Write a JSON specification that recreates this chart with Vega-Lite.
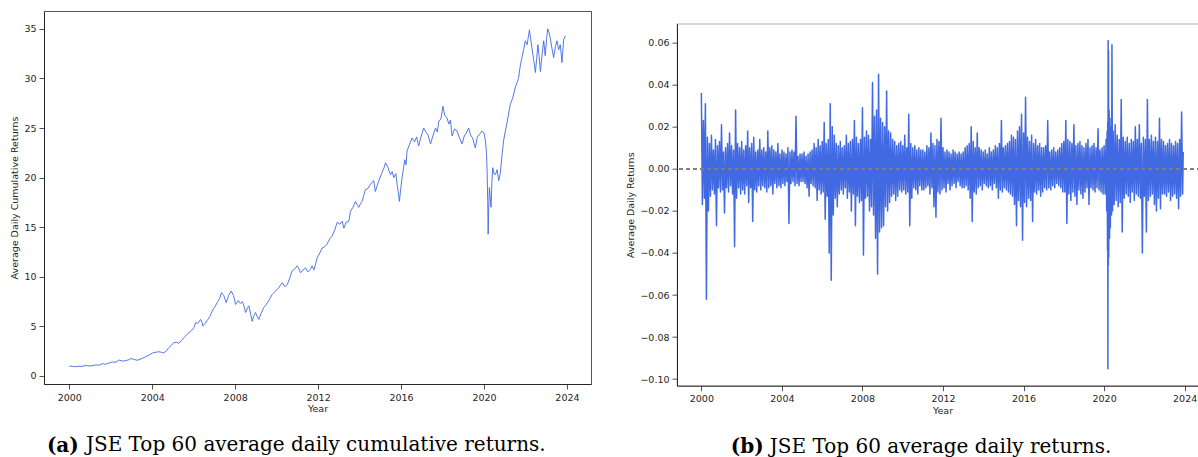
{
  "$schema": "https://vega.github.io/schema/vega-lite/v6.json",
  "background": "white",
  "padding": {"left": 8, "top": 10, "right": 0, "bottom": 0},
  "spacing": 32,
  "config": {
    "font": "DejaVu Sans",
    "view": {"stroke": null},
    "axis": {
      "labelFont": "DejaVu Sans", "labelFontSize": 9.5, "labelColor": "#262626",
      "titleFont": "DejaVu Sans", "titleFontSize": 9.5, "titleFontWeight": "normal", "titleColor": "#262626",
      "tickColor": "#262626", "tickSize": 5, "tickWidth": 0.8, "domainColor": "#262626", "domainWidth": 1,
      "grid": false, "labelPadding": 3, "titlePadding": 4.5
    },
    "axisX": {"titlePadding": 2},
    "title": {"font": "DejaVu Serif", "fontSize": 20, "color": "#000000", "fontWeight": "normal"}
  },
  "hconcat": [
    {
      "title": {"text": "JSE Top 60 average daily cumulative returns.", "orient": "bottom", "anchor": "start", "frame": "bounds", "dx": 77, "dy": -20.5, "offset": 0},
      "vconcat": [{
        "title": {"text": "(a)", "orient": "bottom", "anchor": "start", "frame": "bounds", "fontWeight": "bold", "dx": 38, "offset": 22},
        "vconcat": [{
          "width": 547, "height": 373,
          "view": {"stroke": "#555555", "strokeWidth": 1},
          "data": {"values": [
            {"t":2000.00,"v":1.0},{"t":2000.15,"v":0.97},{"t":2000.30,"v":0.94},{"t":2000.45,"v":0.98},{"t":2000.60,"v":0.95},{"t":2000.79,"v":1.08},{"t":2000.95,"v":1.0},
            {"t":2001.10,"v":1.04},{"t":2001.30,"v":1.12},{"t":2001.45,"v":1.08},{"t":2001.59,"v":1.24},{"t":2001.75,"v":1.18},{"t":2001.90,"v":1.3},
            {"t":2002.07,"v":1.41},{"t":2002.25,"v":1.38},{"t":2002.40,"v":1.61},{"t":2002.55,"v":1.5},{"t":2002.72,"v":1.55},{"t":2002.85,"v":1.62},{"t":2002.96,"v":1.75},
            {"t":2003.10,"v":1.68},{"t":2003.28,"v":1.58},{"t":2003.45,"v":1.72},{"t":2003.60,"v":1.85},{"t":2003.68,"v":1.95},{"t":2003.85,"v":2.1},
            {"t":2004.00,"v":2.3},{"t":2004.08,"v":2.35},{"t":2004.20,"v":2.4},{"t":2004.32,"v":2.45},{"t":2004.45,"v":2.38},{"t":2004.56,"v":2.32},{"t":2004.68,"v":2.55},{"t":2004.80,"v":2.85},{"t":2004.92,"v":3.1},
            {"t":2005.05,"v":3.36},{"t":2005.15,"v":3.4},{"t":2005.29,"v":3.3},{"t":2005.40,"v":3.55},{"t":2005.53,"v":3.86},{"t":2005.65,"v":4.15},{"t":2005.77,"v":4.37},{"t":2005.90,"v":4.6},
            {"t":2006.01,"v":4.87},{"t":2006.09,"v":5.37},{"t":2006.20,"v":5.3},{"t":2006.33,"v":5.7},{"t":2006.40,"v":5.4},{"t":2006.44,"v":5.04},{"t":2006.55,"v":5.3},{"t":2006.65,"v":5.6},{"t":2006.78,"v":6.0},{"t":2006.89,"v":6.55},
            {"t":2007.00,"v":6.9},{"t":2007.13,"v":7.4},{"t":2007.25,"v":7.8},{"t":2007.34,"v":8.4},{"t":2007.45,"v":8.1},{"t":2007.57,"v":7.4},{"t":2007.68,"v":8.1},{"t":2007.81,"v":8.57},{"t":2007.92,"v":8.1},
            {"t":2008.02,"v":7.2},{"t":2008.15,"v":7.6},{"t":2008.25,"v":7.3},{"t":2008.34,"v":7.5},{"t":2008.42,"v":7.1},{"t":2008.50,"v":6.4},{"t":2008.60,"v":6.9},{"t":2008.66,"v":7.06},{"t":2008.75,"v":6.2},{"t":2008.82,"v":5.5},{"t":2008.90,"v":6.1},{"t":2008.98,"v":6.4},
            {"t":2009.06,"v":6.0},{"t":2009.14,"v":5.7},{"t":2009.25,"v":6.3},{"t":2009.38,"v":6.9},{"t":2009.50,"v":7.2},{"t":2009.62,"v":7.6},{"t":2009.78,"v":8.2},{"t":2009.92,"v":8.5},
            {"t":2010.10,"v":8.9},{"t":2010.27,"v":9.4},{"t":2010.40,"v":9.0},{"t":2010.51,"v":9.2},{"t":2010.62,"v":9.8},{"t":2010.75,"v":10.6},{"t":2010.88,"v":10.8},{"t":2010.99,"v":11.1},
            {"t":2011.08,"v":10.8},{"t":2011.15,"v":10.4},{"t":2011.28,"v":10.7},{"t":2011.39,"v":10.9},{"t":2011.50,"v":10.5},{"t":2011.63,"v":10.75},{"t":2011.71,"v":11.1},{"t":2011.80,"v":10.7},{"t":2011.88,"v":11.3},{"t":2011.95,"v":11.9},
            {"t":2012.08,"v":12.4},{"t":2012.19,"v":12.9},{"t":2012.30,"v":13.0},{"t":2012.43,"v":13.3},{"t":2012.55,"v":13.8},{"t":2012.67,"v":14.1},{"t":2012.80,"v":14.7},{"t":2012.92,"v":15.5},
            {"t":2013.05,"v":15.3},{"t":2013.16,"v":15.6},{"t":2013.24,"v":14.9},{"t":2013.35,"v":15.5},{"t":2013.48,"v":15.6},{"t":2013.56,"v":16.6},{"t":2013.68,"v":17.0},{"t":2013.80,"v":17.6},{"t":2013.90,"v":17.2},{"t":2013.96,"v":17.0},
            {"t":2014.05,"v":17.4},{"t":2014.12,"v":17.6},{"t":2014.20,"v":18.2},{"t":2014.28,"v":18.8},{"t":2014.40,"v":18.9},{"t":2014.52,"v":19.3},{"t":2014.60,"v":19.5},{"t":2014.68,"v":19.7},{"t":2014.76,"v":18.6},{"t":2014.85,"v":19.2},{"t":2014.93,"v":19.7},
            {"t":2015.08,"v":20.5},{"t":2015.18,"v":21.0},{"t":2015.25,"v":21.5},{"t":2015.37,"v":21.0},{"t":2015.49,"v":20.3},{"t":2015.57,"v":20.6},{"t":2015.65,"v":20.0},{"t":2015.75,"v":20.4},{"t":2015.81,"v":19.3},{"t":2015.87,"v":18.5},{"t":2015.92,"v":17.6},{"t":2015.98,"v":18.8},
            {"t":2016.05,"v":20.0},{"t":2016.12,"v":21.0},{"t":2016.18,"v":21.8},{"t":2016.24,"v":21.3},{"t":2016.29,"v":22.7},{"t":2016.40,"v":23.3},{"t":2016.53,"v":24.0},{"t":2016.65,"v":23.6},{"t":2016.75,"v":24.1},{"t":2016.85,"v":23.2},{"t":2016.95,"v":24.0},
            {"t":2017.09,"v":25.0},{"t":2017.20,"v":24.6},{"t":2017.30,"v":24.3},{"t":2017.42,"v":23.4},{"t":2017.55,"v":24.3},{"t":2017.66,"v":25.0},{"t":2017.75,"v":24.6},{"t":2017.82,"v":25.7},{"t":2017.92,"v":25.9},
            {"t":2018.02,"v":27.2},{"t":2018.10,"v":26.3},{"t":2018.22,"v":26.0},{"t":2018.30,"v":25.4},{"t":2018.38,"v":25.8},{"t":2018.46,"v":24.2},{"t":2018.58,"v":24.9},{"t":2018.70,"v":24.7},{"t":2018.80,"v":24.1},{"t":2018.94,"v":23.4},
            {"t":2019.05,"v":24.2},{"t":2019.15,"v":24.5},{"t":2019.26,"v":25.0},{"t":2019.35,"v":24.3},{"t":2019.45,"v":24.0},{"t":2019.58,"v":23.0},{"t":2019.68,"v":24.1},{"t":2019.80,"v":24.4},{"t":2019.90,"v":24.7},
            {"t":2020.00,"v":24.5},{"t":2020.07,"v":23.7},{"t":2020.12,"v":22.5},{"t":2020.15,"v":20.7},{"t":2020.18,"v":17.5},{"t":2020.20,"v":14.3},{"t":2020.23,"v":17.0},{"t":2020.26,"v":19.0},{"t":2020.30,"v":18.0},{"t":2020.34,"v":17.0},{"t":2020.38,"v":19.5},{"t":2020.42,"v":21.0},{"t":2020.48,"v":20.4},{"t":2020.55,"v":20.3},{"t":2020.63,"v":20.8},{"t":2020.71,"v":19.7},{"t":2020.79,"v":20.5},{"t":2020.87,"v":22.3},{"t":2020.95,"v":23.8},
            {"t":2021.03,"v":24.7},{"t":2021.15,"v":26.0},{"t":2021.27,"v":27.4},{"t":2021.38,"v":28.0},{"t":2021.51,"v":29.1},{"t":2021.60,"v":29.6},{"t":2021.67,"v":30.1},{"t":2021.75,"v":31.3},{"t":2021.83,"v":32.1},{"t":2021.92,"v":33.0},{"t":2021.99,"v":33.8},
            {"t":2022.08,"v":33.4},{"t":2022.19,"v":34.9},{"t":2022.25,"v":34.0},{"t":2022.31,"v":33.1},{"t":2022.40,"v":31.8},{"t":2022.48,"v":30.6},{"t":2022.54,"v":32.0},{"t":2022.60,"v":33.4},{"t":2022.66,"v":32.2},{"t":2022.72,"v":30.7},{"t":2022.80,"v":32.4},{"t":2022.88,"v":33.8},{"t":2022.95,"v":32.3},
            {"t":2023.02,"v":34.0},{"t":2023.07,"v":35.0},{"t":2023.14,"v":34.6},{"t":2023.20,"v":34.0},{"t":2023.28,"v":33.0},{"t":2023.36,"v":32.1},{"t":2023.44,"v":33.2},{"t":2023.52,"v":33.8},{"t":2023.60,"v":32.9},{"t":2023.68,"v":33.4},{"t":2023.76,"v":31.6},{"t":2023.84,"v":33.9},{"t":2023.92,"v":34.3}
          ]},
          "mark": {"type": "line", "color": "#4169E1", "strokeWidth": 0.9},
          "encoding": {
            "x": {"field": "t", "type": "quantitative", "scale": {"domain": [1998.78, 2025.16], "nice": false, "zero": false},
                  "axis": {"values": [2000, 2004, 2008, 2012, 2016, 2020, 2024], "format": "d", "title": "Year"}},
            "y": {"field": "v", "type": "quantitative", "scale": {"domain": [-0.81, 36.8], "nice": false, "zero": false},
                  "axis": {"values": [0, 5, 10, 15, 20, 25, 30, 35], "format": "d", "title": "Average Daily Cumulative Returns"}}
          }
        }]
      }]
    },
    {
      "title": {"text": "JSE Top 60 average daily returns.", "orient": "bottom", "anchor": "start", "frame": "bounds", "dx": 145, "dy": -20.5, "offset": 0},
      "vconcat": [{
        "title": {"text": "(b)", "orient": "bottom", "anchor": "start", "frame": "bounds", "fontWeight": "bold", "dx": 106, "offset": 22},
        "spacing": 10.7,
        "vconcat": [
          {
            "width": 531, "height": 1,
            "data": {"values": [{}]},
            "mark": {"type": "rule", "opacity": 0},
            "encoding": {}
          },
          {
          "width": 531, "height": 362,
          "view": {"stroke": "#b0b0b0", "strokeWidth": 1.2},
          "data": {"values": [
            {"t":2000.00,"r":0.036},{"t":2000.05,"r":-0.017},{"t":2000.10,"r":0.023},{"t":2000.15,"r":-0.014},{"t":2000.20,"r":0.031},{"t":2000.25,"r":-0.062},{"t":2000.30,"r":0.015},{"t":2000.35,"r":-0.020},{"t":2000.40,"r":0.012},{"t":2000.45,"r":-0.013},{"t":2000.50,"r":0.016},{"t":2000.55,"r":-0.010},{"t":2000.60,"r":0.009},{"t":2000.65,"r":-0.012},{"t":2000.70,"r":0.014},{"t":2000.75,"r":-0.027},{"t":2000.80,"r":0.011},{"t":2000.85,"r":-0.009},{"t":2000.90,"r":0.013},{"t":2000.95,"r":-0.011},
            {"t":2001.00,"r":0.021},{"t":2001.05,"r":-0.010},{"t":2001.10,"r":0.008},{"t":2001.15,"r":-0.021},{"t":2001.20,"r":0.010},{"t":2001.25,"r":-0.009},{"t":2001.30,"r":0.012},{"t":2001.35,"r":-0.011},{"t":2001.40,"r":0.017},{"t":2001.45,"r":-0.008},{"t":2001.50,"r":0.011},{"t":2001.55,"r":-0.012},{"t":2001.60,"r":0.009},{"t":2001.65,"r":-0.037},{"t":2001.70,"r":0.028},{"t":2001.75,"r":-0.014},{"t":2001.80,"r":0.012},{"t":2001.85,"r":-0.009},{"t":2001.90,"r":0.010},{"t":2001.95,"r":-0.012},
            {"t":2002.00,"r":0.013},{"t":2002.05,"r":-0.010},{"t":2002.10,"r":0.009},{"t":2002.15,"r":-0.012},{"t":2002.20,"r":0.011},{"t":2002.25,"r":-0.008},{"t":2002.30,"r":0.018},{"t":2002.35,"r":-0.016},{"t":2002.40,"r":0.010},{"t":2002.45,"r":-0.009},{"t":2002.50,"r":0.012},{"t":2002.55,"r":-0.025},{"t":2002.60,"r":0.015},{"t":2002.65,"r":-0.010},{"t":2002.70,"r":0.008},{"t":2002.75,"r":-0.011},{"t":2002.80,"r":0.009},{"t":2002.85,"r":-0.008},{"t":2002.90,"r":0.014},{"t":2002.95,"r":-0.010},
            {"t":2003.00,"r":0.009},{"t":2003.05,"r":-0.008},{"t":2003.10,"r":0.010},{"t":2003.15,"r":-0.009},{"t":2003.20,"r":0.008},{"t":2003.25,"r":-0.011},{"t":2003.30,"r":0.018},{"t":2003.35,"r":-0.009},{"t":2003.40,"r":0.010},{"t":2003.45,"r":-0.008},{"t":2003.50,"r":0.011},{"t":2003.55,"r":-0.012},{"t":2003.60,"r":0.009},{"t":2003.65,"r":-0.007},{"t":2003.70,"r":0.008},{"t":2003.75,"r":-0.009},{"t":2003.80,"r":0.012},{"t":2003.85,"r":-0.008},{"t":2003.90,"r":0.007},{"t":2003.95,"r":-0.009},
            {"t":2004.00,"r":0.009},{"t":2004.05,"r":-0.007},{"t":2004.10,"r":0.008},{"t":2004.15,"r":-0.008},{"t":2004.20,"r":0.007},{"t":2004.25,"r":-0.006},{"t":2004.30,"r":0.010},{"t":2004.35,"r":-0.026},{"t":2004.40,"r":0.008},{"t":2004.45,"r":-0.007},{"t":2004.50,"r":0.009},{"t":2004.55,"r":-0.006},{"t":2004.60,"r":0.008},{"t":2004.65,"r":-0.008},{"t":2004.70,"r":0.025},{"t":2004.75,"r":-0.007},{"t":2004.80,"r":0.006},{"t":2004.85,"r":-0.008},{"t":2004.90,"r":0.007},{"t":2004.95,"r":-0.006},
            {"t":2005.00,"r":0.007},{"t":2005.05,"r":-0.006},{"t":2005.10,"r":0.008},{"t":2005.15,"r":-0.007},{"t":2005.20,"r":0.006},{"t":2005.25,"r":-0.009},{"t":2005.30,"r":0.007},{"t":2005.35,"r":-0.013},{"t":2005.40,"r":0.008},{"t":2005.45,"r":-0.007},{"t":2005.50,"r":0.009},{"t":2005.55,"r":-0.008},{"t":2005.60,"r":0.012},{"t":2005.65,"r":-0.009},{"t":2005.70,"r":0.010},{"t":2005.75,"r":-0.015},{"t":2005.80,"r":0.014},{"t":2005.85,"r":-0.010},{"t":2005.90,"r":0.011},{"t":2005.95,"r":-0.012},
            {"t":2006.00,"r":0.013},{"t":2006.05,"r":-0.011},{"t":2006.10,"r":0.022},{"t":2006.15,"r":-0.024},{"t":2006.20,"r":0.012},{"t":2006.25,"r":-0.013},{"t":2006.30,"r":0.014},{"t":2006.35,"r":-0.040},{"t":2006.40,"r":0.031},{"t":2006.45,"r":-0.053},{"t":2006.50,"r":0.020},{"t":2006.55,"r":-0.022},{"t":2006.60,"r":0.016},{"t":2006.65,"r":-0.014},{"t":2006.70,"r":0.012},{"t":2006.75,"r":-0.018},{"t":2006.80,"r":0.011},{"t":2006.85,"r":-0.012},{"t":2006.90,"r":0.013},{"t":2006.95,"r":-0.010},
            {"t":2007.00,"r":0.010},{"t":2007.05,"r":-0.012},{"t":2007.10,"r":0.011},{"t":2007.15,"r":-0.009},{"t":2007.20,"r":0.016},{"t":2007.25,"r":-0.014},{"t":2007.30,"r":0.012},{"t":2007.35,"r":-0.011},{"t":2007.40,"r":0.013},{"t":2007.45,"r":-0.020},{"t":2007.50,"r":0.014},{"t":2007.55,"r":-0.012},{"t":2007.60,"r":0.023},{"t":2007.65,"r":-0.027},{"t":2007.70,"r":0.015},{"t":2007.75,"r":-0.013},{"t":2007.80,"r":0.012},{"t":2007.85,"r":-0.016},{"t":2007.90,"r":0.014},{"t":2007.95,"r":-0.015},
            {"t":2008.00,"r":0.029},{"t":2008.05,"r":-0.041},{"t":2008.10,"r":0.015},{"t":2008.15,"r":-0.014},{"t":2008.20,"r":0.018},{"t":2008.25,"r":-0.013},{"t":2008.30,"r":0.016},{"t":2008.35,"r":-0.020},{"t":2008.40,"r":0.014},{"t":2008.45,"r":-0.018},{"t":2008.50,"r":0.041},{"t":2008.55,"r":-0.022},{"t":2008.60,"r":0.025},{"t":2008.65,"r":-0.033},{"t":2008.70,"r":0.028},{"t":2008.75,"r":-0.050},{"t":2008.80,"r":0.045},{"t":2008.85,"r":-0.030},{"t":2008.90,"r":0.024},{"t":2008.95,"r":-0.028},
            {"t":2009.00,"r":0.022},{"t":2009.05,"r":-0.027},{"t":2009.10,"r":0.020},{"t":2009.15,"r":-0.018},{"t":2009.20,"r":0.037},{"t":2009.25,"r":-0.020},{"t":2009.30,"r":0.018},{"t":2009.35,"r":-0.016},{"t":2009.40,"r":0.017},{"t":2009.45,"r":-0.013},{"t":2009.50,"r":0.014},{"t":2009.55,"r":-0.012},{"t":2009.60,"r":0.013},{"t":2009.65,"r":-0.015},{"t":2009.70,"r":0.011},{"t":2009.75,"r":-0.013},{"t":2009.80,"r":0.012},{"t":2009.85,"r":-0.010},{"t":2009.90,"r":0.013},{"t":2009.95,"r":-0.011},
            {"t":2010.00,"r":0.011},{"t":2010.05,"r":-0.010},{"t":2010.10,"r":0.016},{"t":2010.15,"r":-0.012},{"t":2010.20,"r":0.010},{"t":2010.25,"r":-0.011},{"t":2010.30,"r":0.026},{"t":2010.35,"r":-0.027},{"t":2010.40,"r":0.012},{"t":2010.45,"r":-0.014},{"t":2010.50,"r":0.010},{"t":2010.55,"r":-0.009},{"t":2010.60,"r":0.011},{"t":2010.65,"r":-0.010},{"t":2010.70,"r":0.009},{"t":2010.75,"r":-0.012},{"t":2010.80,"r":0.010},{"t":2010.85,"r":-0.008},{"t":2010.90,"r":0.009},{"t":2010.95,"r":-0.010},
            {"t":2011.00,"r":0.009},{"t":2011.05,"r":-0.010},{"t":2011.10,"r":0.008},{"t":2011.15,"r":-0.009},{"t":2011.20,"r":0.011},{"t":2011.25,"r":-0.008},{"t":2011.30,"r":0.010},{"t":2011.35,"r":-0.012},{"t":2011.40,"r":0.017},{"t":2011.45,"r":-0.009},{"t":2011.50,"r":0.012},{"t":2011.55,"r":-0.018},{"t":2011.60,"r":0.011},{"t":2011.65,"r":-0.023},{"t":2011.70,"r":0.014},{"t":2011.75,"r":-0.011},{"t":2011.80,"r":0.013},{"t":2011.85,"r":-0.012},{"t":2011.90,"r":0.024},{"t":2011.95,"r":-0.010},
            {"t":2012.00,"r":0.010},{"t":2012.05,"r":-0.009},{"t":2012.10,"r":0.008},{"t":2012.15,"r":-0.011},{"t":2012.20,"r":0.009},{"t":2012.25,"r":-0.007},{"t":2012.30,"r":0.008},{"t":2012.35,"r":-0.010},{"t":2012.40,"r":0.007},{"t":2012.45,"r":-0.008},{"t":2012.50,"r":0.009},{"t":2012.55,"r":-0.007},{"t":2012.60,"r":0.008},{"t":2012.65,"r":-0.009},{"t":2012.70,"r":0.007},{"t":2012.75,"r":-0.006},{"t":2012.80,"r":0.008},{"t":2012.85,"r":-0.008},{"t":2012.90,"r":0.007},{"t":2012.95,"r":-0.009},
            {"t":2013.00,"r":0.008},{"t":2013.05,"r":-0.009},{"t":2013.10,"r":0.010},{"t":2013.15,"r":-0.008},{"t":2013.20,"r":0.011},{"t":2013.25,"r":-0.010},{"t":2013.30,"r":0.012},{"t":2013.35,"r":-0.014},{"t":2013.40,"r":0.020},{"t":2013.45,"r":-0.025},{"t":2013.50,"r":0.013},{"t":2013.55,"r":-0.011},{"t":2013.60,"r":0.010},{"t":2013.65,"r":-0.012},{"t":2013.70,"r":0.017},{"t":2013.75,"r":-0.009},{"t":2013.80,"r":0.010},{"t":2013.85,"r":-0.008},{"t":2013.90,"r":0.009},{"t":2013.95,"r":-0.010},
            {"t":2014.00,"r":0.008},{"t":2014.05,"r":-0.007},{"t":2014.10,"r":0.009},{"t":2014.15,"r":-0.008},{"t":2014.20,"r":0.007},{"t":2014.25,"r":-0.009},{"t":2014.30,"r":0.010},{"t":2014.35,"r":-0.008},{"t":2014.40,"r":0.008},{"t":2014.45,"r":-0.010},{"t":2014.50,"r":0.009},{"t":2014.55,"r":-0.007},{"t":2014.60,"r":0.011},{"t":2014.65,"r":-0.009},{"t":2014.70,"r":0.010},{"t":2014.75,"r":-0.014},{"t":2014.80,"r":0.012},{"t":2014.85,"r":-0.010},{"t":2014.90,"r":0.023},{"t":2014.95,"r":-0.011},
            {"t":2015.00,"r":0.010},{"t":2015.05,"r":-0.009},{"t":2015.10,"r":0.011},{"t":2015.15,"r":-0.010},{"t":2015.20,"r":0.012},{"t":2015.25,"r":-0.011},{"t":2015.30,"r":0.013},{"t":2015.35,"r":-0.012},{"t":2015.40,"r":0.016},{"t":2015.45,"r":-0.013},{"t":2015.50,"r":0.015},{"t":2015.55,"r":-0.017},{"t":2015.60,"r":0.014},{"t":2015.65,"r":-0.027},{"t":2015.70,"r":0.018},{"t":2015.75,"r":-0.015},{"t":2015.80,"r":0.020},{"t":2015.85,"r":-0.018},{"t":2015.90,"r":0.026},{"t":2015.95,"r":-0.034},
            {"t":2016.00,"r":0.017},{"t":2016.05,"r":-0.016},{"t":2016.10,"r":0.034},{"t":2016.15,"r":-0.018},{"t":2016.20,"r":0.015},{"t":2016.25,"r":-0.014},{"t":2016.30,"r":0.013},{"t":2016.35,"r":-0.015},{"t":2016.40,"r":0.016},{"t":2016.45,"r":-0.025},{"t":2016.50,"r":0.012},{"t":2016.55,"r":-0.011},{"t":2016.60,"r":0.014},{"t":2016.65,"r":-0.012},{"t":2016.70,"r":0.011},{"t":2016.75,"r":-0.010},{"t":2016.80,"r":0.012},{"t":2016.85,"r":-0.013},{"t":2016.90,"r":0.010},{"t":2016.95,"r":-0.011},
            {"t":2017.00,"r":0.010},{"t":2017.05,"r":-0.009},{"t":2017.10,"r":0.011},{"t":2017.15,"r":-0.010},{"t":2017.20,"r":0.023},{"t":2017.25,"r":-0.009},{"t":2017.30,"r":0.008},{"t":2017.35,"r":-0.010},{"t":2017.40,"r":0.009},{"t":2017.45,"r":-0.008},{"t":2017.50,"r":0.010},{"t":2017.55,"r":-0.009},{"t":2017.60,"r":0.008},{"t":2017.65,"r":-0.007},{"t":2017.70,"r":0.009},{"t":2017.75,"r":-0.008},{"t":2017.80,"r":0.010},{"t":2017.85,"r":-0.009},{"t":2017.90,"r":0.012},{"t":2017.95,"r":-0.011},
            {"t":2018.00,"r":0.013},{"t":2018.05,"r":-0.011},{"t":2018.10,"r":0.023},{"t":2018.15,"r":-0.026},{"t":2018.20,"r":0.014},{"t":2018.25,"r":-0.012},{"t":2018.30,"r":0.013},{"t":2018.35,"r":-0.015},{"t":2018.40,"r":0.012},{"t":2018.45,"r":-0.011},{"t":2018.50,"r":0.021},{"t":2018.55,"r":-0.013},{"t":2018.60,"r":0.011},{"t":2018.65,"r":-0.017},{"t":2018.70,"r":0.012},{"t":2018.75,"r":-0.010},{"t":2018.80,"r":0.013},{"t":2018.85,"r":-0.012},{"t":2018.90,"r":0.011},{"t":2018.95,"r":-0.014},
            {"t":2019.00,"r":0.010},{"t":2019.05,"r":-0.011},{"t":2019.10,"r":0.012},{"t":2019.15,"r":-0.009},{"t":2019.20,"r":0.014},{"t":2019.25,"r":-0.017},{"t":2019.30,"r":0.010},{"t":2019.35,"r":-0.009},{"t":2019.40,"r":0.011},{"t":2019.45,"r":-0.010},{"t":2019.50,"r":0.012},{"t":2019.55,"r":-0.011},{"t":2019.60,"r":0.010},{"t":2019.65,"r":-0.009},{"t":2019.70,"r":0.019},{"t":2019.75,"r":-0.010},{"t":2019.80,"r":0.009},{"t":2019.85,"r":-0.011},{"t":2019.90,"r":0.010},{"t":2019.95,"r":-0.012},
            {"t":2020.00,"r":0.011},{"t":2020.05,"r":-0.012},{"t":2020.10,"r":0.014},{"t":2020.13,"r":-0.020},{"t":2020.15,"r":0.018},{"t":2020.17,"r":-0.039},{"t":2020.18,"r":0.022},{"t":2020.19,"r":-0.095},{"t":2020.20,"r":0.061},{"t":2020.21,"r":-0.046},{"t":2020.22,"r":0.056},{"t":2020.23,"r":-0.042},{"t":2020.25,"r":0.028},{"t":2020.27,"r":-0.033},{"t":2020.29,"r":0.024},{"t":2020.31,"r":-0.028},{"t":2020.34,"r":0.020},{"t":2020.37,"r":-0.022},{"t":2020.39,"r":0.059},{"t":2020.42,"r":-0.020},{"t":2020.45,"r":0.018},{"t":2020.50,"r":-0.017},{"t":2020.55,"r":0.021},{"t":2020.60,"r":-0.015},{"t":2020.65,"r":0.016},{"t":2020.70,"r":-0.018},{"t":2020.75,"r":0.014},{"t":2020.80,"r":-0.016},{"t":2020.85,"r":0.033},{"t":2020.90,"r":-0.030},{"t":2020.95,"r":0.015},
            {"t":2021.00,"r":-0.014},{"t":2021.05,"r":0.013},{"t":2021.10,"r":-0.012},{"t":2021.15,"r":0.015},{"t":2021.20,"r":-0.013},{"t":2021.25,"r":0.012},{"t":2021.30,"r":-0.016},{"t":2021.35,"r":0.014},{"t":2021.40,"r":-0.011},{"t":2021.45,"r":0.013},{"t":2021.50,"r":-0.015},{"t":2021.55,"r":0.020},{"t":2021.60,"r":-0.012},{"t":2021.65,"r":0.014},{"t":2021.70,"r":-0.013},{"t":2021.75,"r":0.021},{"t":2021.80,"r":-0.014},{"t":2021.85,"r":0.012},{"t":2021.90,"r":-0.040},{"t":2021.95,"r":0.015},
            {"t":2022.00,"r":-0.013},{"t":2022.05,"r":0.014},{"t":2022.10,"r":-0.030},{"t":2022.15,"r":0.033},{"t":2022.20,"r":-0.015},{"t":2022.25,"r":0.014},{"t":2022.30,"r":-0.013},{"t":2022.35,"r":0.016},{"t":2022.40,"r":-0.012},{"t":2022.45,"r":0.013},{"t":2022.50,"r":-0.017},{"t":2022.55,"r":0.015},{"t":2022.60,"r":-0.020},{"t":2022.65,"r":0.013},{"t":2022.70,"r":-0.014},{"t":2022.75,"r":0.024},{"t":2022.80,"r":-0.019},{"t":2022.85,"r":0.014},{"t":2022.90,"r":-0.012},{"t":2022.95,"r":0.013},
            {"t":2023.00,"r":-0.012},{"t":2023.05,"r":0.011},{"t":2023.10,"r":-0.013},{"t":2023.15,"r":0.012},{"t":2023.20,"r":-0.011},{"t":2023.25,"r":0.014},{"t":2023.30,"r":-0.015},{"t":2023.35,"r":0.012},{"t":2023.40,"r":-0.013},{"t":2023.45,"r":0.011},{"t":2023.50,"r":-0.012},{"t":2023.55,"r":0.013},{"t":2023.60,"r":-0.014},{"t":2023.65,"r":0.012},{"t":2023.70,"r":-0.019},{"t":2023.75,"r":0.014},{"t":2023.80,"r":-0.013},{"t":2023.85,"r":0.027},{"t":2023.90,"r":-0.012},{"t":2023.93,"r":0.008}
          ]},
          "layer": [
            {
              "mark": {"type": "line", "color": "#4169E1", "strokeWidth": 1.5, "strokeJoin": "round"},
              "encoding": {
                "x": {"field": "t", "type": "quantitative", "scale": {"domain": [1998.79, 2025.16], "nice": false, "zero": false},
                      "axis": {"values": [2000, 2004, 2008, 2012, 2016, 2020, 2024], "format": "d", "title": "Year"}},
                "y": {"field": "r", "type": "quantitative", "scale": {"domain": [-0.1031, 0.069], "nice": false, "zero": false},
                      "axis": {"values": [-0.1, -0.08, -0.06, -0.04, -0.02, 0, 0.02, 0.04, 0.06], "format": ".2f", "title": "Average Daily Returns"}}
              }
            },
            {
              "mark": {"type": "rule", "color": "#808080", "strokeDash": [4, 3], "strokeWidth": 1},
              "encoding": {"y": {"datum": 0}}
            }
          ]
          }
        ]
      }]
    }
  ]
}
